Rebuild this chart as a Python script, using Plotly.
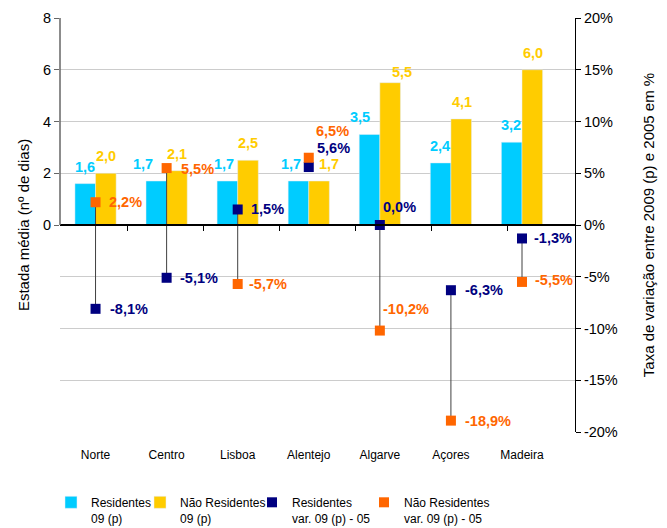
import plotly.graph_objects as go

categories = ["Norte", "Centro", "Lisboa", "Alentejo", "Algarve", "Açores", "Madeira"]
residentes_09 = [1.6, 1.7, 1.7, 1.7, 3.5, 2.4, 3.2]
nao_residentes_09 = [2.0, 2.1, 2.5, 1.7, 5.5, 4.1, 6.0]
residentes_var = [-8.1, -5.1, 1.5, 5.6, 0.0, -6.3, -1.3]
nao_residentes_var = [2.2, 5.5, -5.7, 6.5, -10.2, -18.9, -5.5]
left_ticks = [0, 2, 4, 6, 8]
right_ticks = [-20, -15, -10, -5, 0, 5, 10, 15, 20]

# label nudges (pixels) to mimic the reference placement
res_bar_dx = [0, -13, -3, -7, -9, 0, 0]
nres_bar_dx = [0, 0, 0, 10, 11, 0, 0]
nres_bar_dy = [0, 0, 0, 0, -6, 0, 0]
res_var_dx = [12, 11, 11, 6, 1, 12, 10]
res_var_dy = [0, 0, 0, 19, 18, 0, 0]
nres_var_dx = [11, 12, 9, 5, 1, 12, 11]
nres_var_dy = [0, -1, 0, 27, 22, 0, 2]

CYAN = "#00CCFF"
GOLD = "#FFCC00"
NAVY = "#000080"
ORANGE = "#FF6600"
FONT = "Liberation Sans, Arial, sans-serif"

W, H = 667, 528
ML, MR, MT, MB = 60, 92, 18, 96
BARGAP = 0.42
PLOT_W = W - ML - MR
PLOT_H = H - MT - MB
BAR_HALF = PLOT_W / len(categories) * (1 - BARGAP) / 4  # half a bar width
LABEL_SIZE = 14.5

# legend entry left edges (pixels from figure left)
legend_left_px = [51, 140, 252, 364]


def num(v):
    return f"{v:.1f}".replace(".", ",")


fig = go.Figure()

fig.add_trace(go.Bar(
    x=categories, y=residentes_09, name="Residentes<br>09 (p)",
    marker_color=CYAN, hoverinfo="skip", legend="legend",
))
fig.add_trace(go.Bar(
    x=categories, y=nao_residentes_09, name="Não Residentes<br>09 (p)",
    marker_color=GOLD, hoverinfo="skip", legend="legend2",
))

# high-low lines connecting the two variation series
hl_x, hl_y = [], []
for c, a, b in zip(categories, residentes_var, nao_residentes_var):
    hl_x += [c, c, None]
    hl_y += [a, b, None]
fig.add_trace(go.Scatter(
    x=hl_x, y=hl_y, yaxis="y2", mode="lines",
    line=dict(color="#404040", width=1), showlegend=False, hoverinfo="skip",
))

fig.add_trace(go.Scatter(
    x=categories, y=residentes_var, yaxis="y2", mode="markers",
    name="Residentes<br>var. 09 (p) - 05",
    marker=dict(symbol="square", size=10, color=NAVY), hoverinfo="skip",
    legend="legend3",
))
fig.add_trace(go.Scatter(
    x=categories, y=nao_residentes_var, yaxis="y2", mode="markers",
    name="Não Residentes<br>var. 09 (p) - 05",
    marker=dict(symbol="square", size=10, color=ORANGE), hoverinfo="skip",
    legend="legend4",
))

# invisible trace carrying the category axis drawn along the zero line
fig.add_trace(go.Scatter(
    x=categories, y=residentes_09, xaxis="x2", yaxis="y", mode="markers",
    marker=dict(opacity=0), showlegend=False, hoverinfo="skip",
))

annotations = []
for i, c in enumerate(categories):
    annotations.append(dict(
        x=c, y=residentes_09[i], xref="x", yref="y", text="<b>" + num(residentes_09[i]) + "</b>",
        showarrow=False, xanchor="center", yanchor="middle",
        xshift=-BAR_HALF + res_bar_dx[i], yshift=17,
        font=dict(color=CYAN, size=LABEL_SIZE, family=FONT),
    ))
    annotations.append(dict(
        x=c, y=nao_residentes_09[i], xref="x", yref="y", text="<b>" + num(nao_residentes_09[i]) + "</b>",
        showarrow=False, xanchor="center", yanchor="middle",
        xshift=BAR_HALF + nres_bar_dx[i], yshift=17 + nres_bar_dy[i],
        font=dict(color=GOLD, size=LABEL_SIZE, family=FONT),
    ))
    annotations.append(dict(
        x=c, y=residentes_var[i], xref="x", yref="y2", text="<b>" + num(residentes_var[i]) + "%</b>",
        showarrow=False, xanchor="left", yanchor="middle",
        xshift=res_var_dx[i], yshift=res_var_dy[i],
        font=dict(color=NAVY, size=LABEL_SIZE, family=FONT),
    ))
    annotations.append(dict(
        x=c, y=nao_residentes_var[i], xref="x", yref="y2", text="<b>" + num(nao_residentes_var[i]) + "%</b>",
        showarrow=False, xanchor="left", yanchor="middle",
        xshift=nres_var_dx[i], yshift=nres_var_dy[i],
        font=dict(color=ORANGE, size=LABEL_SIZE, family=FONT),
    ))

legend_y = -(H + 5 - MT - PLOT_H) / PLOT_H  # legend bottom padding just past the figure edge
legend_common = dict(
    orientation="h", xanchor="left", y=legend_y, yanchor="bottom",
    font=dict(size=12, family=FONT, color="#000000"), valign="top",
    itemwidth=30, tracegroupgap=0, bgcolor="rgba(0,0,0,0)",
)
legends = {}
for k, px in enumerate(legend_left_px):
    key = "legend" if k == 0 else f"legend{k + 1}"
    legends[key] = dict(legend_common, x=(px - ML) / PLOT_W)

fig.update_layout(
    width=W, height=H,
    margin=dict(l=ML, r=MR, t=MT, b=MB, autoexpand=False),
    paper_bgcolor="white", plot_bgcolor="white",
    font=dict(family=FONT, size=12, color="#000000"),
    separators=",.",
    barmode="group", bargap=BARGAP, bargroupgap=0,
    showlegend=True,
    xaxis=dict(
        type="category", showline=False, ticks="", showgrid=False,
        tickfont=dict(size=12), categoryorder="array", categoryarray=categories,
        ticklabelstandoff=14, automargin=False,
    ),
    xaxis2=dict(
        type="category", overlaying="x", anchor="free", position=0.5,
        showline=True, linecolor="#000000", linewidth=1.5,
        ticks="outside", tickson="boundaries", ticklen=5, tickcolor="#000000",
        showticklabels=False, showgrid=False,
        categoryorder="array", categoryarray=categories,
    ),
    yaxis=dict(
        range=[-8, 8], tickvals=left_ticks, ticks="outside", ticklen=5,
        tickcolor="#666666", showgrid=False, zeroline=False, showline=False,
        title=dict(text="Estada média (nº de dias)", font=dict(size=15), standoff=9),
        tickfont=dict(size=14.5), automargin=False,
    ),
    yaxis2=dict(
        range=[-20, 20], overlaying="y", side="right", anchor="x",
        tickvals=right_ticks, ticktext=[f"{v}%" for v in right_ticks],
        ticks="outside", ticklen=5, tickcolor="#000000",
        showline=True, linecolor="#000000", linewidth=1,
        showgrid=True, gridcolor="#CCCCCC", gridwidth=1, zeroline=False,
        title=dict(text="Taxa de variação entre 2009 (p) e 2005 em %", font=dict(size=15), standoff=26),
        tickfont=dict(size=14.5), automargin=False,
    ),
    shapes=[dict(
        type="line", xref="paper", yref="y", x0=0, x1=0, y0=0, y1=8,
        line=dict(color="#666666", width=1.5),
    )],
    annotations=annotations,
    **legends,
)

fig.write_html(
    "out.html",
    config={"displayModeBar": False},
    post_script="document.body.style.margin='0px';",
)
